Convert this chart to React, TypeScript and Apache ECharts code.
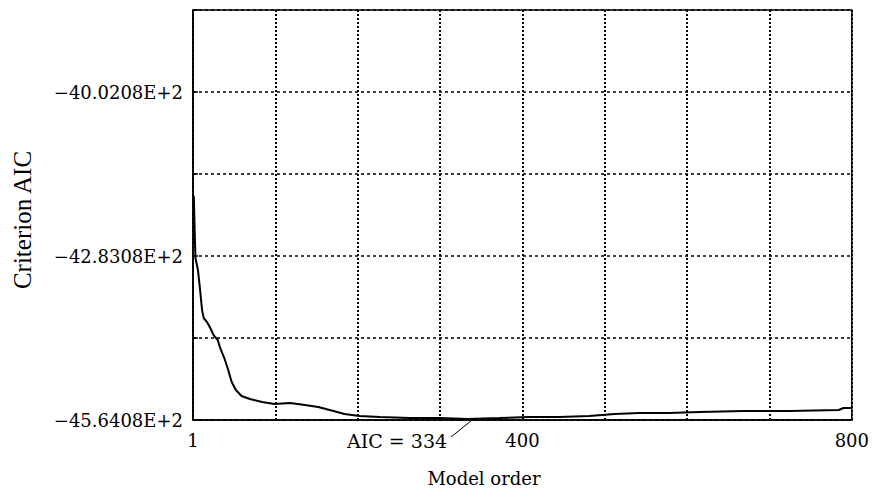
import React, { useEffect, useRef } from "react";
import * as echarts from "echarts";

// Model order (x) and criterion AIC values (y)
const ORDERS = [1, 2, 3, 4, 6, 8, 11, 13, 17, 21, 25, 30, 33, 38, 42, 47, 52, 59, 69, 84, 99, 118, 136, 152, 166, 184, 202, 227, 263, 299, 334, 372, 408, 445, 481, 512, 542, 578, 615, 669, 724, 784, 790, 800];
const AIC = [-4180.0, -4238.6, -4286.5, -4293.4, -4307.1, -4332.8, -4375.6, -4389.3, -4396.2, -4406.5, -4418.5, -4427.0, -4440.7, -4457.9, -4475.0, -4499.0, -4512.7, -4523.0, -4528.1, -4533.3, -4536.7, -4535.0, -4538.4, -4541.8, -4547.0, -4553.8, -4557.2, -4559.0, -4560.7, -4560.7, -4562.4, -4560.7, -4559.0, -4559.0, -4557.2, -4553.8, -4552.1, -4552.1, -4550.4, -4548.7, -4548.7, -4547.0, -4543.5, -4543.5];

// Axis definitions
const Y_MIN = -4564.08;
const Y_STEP = 140.5;
const Y_DIVS = 5;
const Y_LABEL_TEXTS = ["\u221245.6408E+2", "", "\u221242.8308E+2", "", "\u221240.0208E+2", ""];
const X_MAX = 800;
const X_STEP = 100;
const X_LABEL_POS = [0, 400, 800];
const X_LABEL_TEXTS = ["1", "400", "800"];
const BEST_ORDER = 334;
const ANNOT_TEXT = "AIC = 334";

const FONT = "DejaVu Serif";

export default function App() {
  const ref = useRef<HTMLDivElement>(null);
  useEffect(() => {
    if (!ref.current) return;
    const chart = echarts.init(ref.current, undefined, { renderer: "svg" });
    const data = ORDERS.map((o, i) => [o, AIC[i] - Y_MIN]);
    chart.setOption({
      animation: false,
      backgroundColor: "#fff",
      grid: { left: 193, right: 19, top: 10, bottom: 69, show: true, borderColor: "#000", borderWidth: 1.5, containLabel: false },
      xAxis: {
        type: "value",
        min: 0,
        max: X_MAX,
        interval: X_STEP,
        axisLine: { show: true, lineStyle: { color: "#000", width: 1.5 } },
        axisTick: { show: false },
        splitLine: { show: true, lineStyle: { color: "#000", type: [2, 2], width: 2 } },
        axisLabel: {
          show: true,
          margin: 11,
          color: "#000",
          fontFamily: FONT,
          fontSize: 18,
          showMinLabel: true,
          showMaxLabel: true,
          formatter: (v: number) => {
            const i = X_LABEL_POS.findIndex((p) => Math.abs(p - v) < 1e-6);
            return i >= 0 ? X_LABEL_TEXTS[i] : "";
          },
        },
      },
      yAxis: {
        type: "value",
        min: 0,
        max: Y_STEP * Y_DIVS,
        interval: Y_STEP,
        axisLine: { show: true, lineStyle: { color: "#000", width: 1.5 } },
        axisTick: { show: true, inside: true, length: 5, lineStyle: { color: "#000", width: 1.5 } },
        splitLine: { show: true, lineStyle: { color: "#000", type: [3, 3], width: 1.5 } },
        axisLabel: {
          show: true,
          margin: 10,
          color: "#000",
          fontFamily: FONT,
          fontSize: 18,
          showMinLabel: true,
          showMaxLabel: true,
          formatter: (v: number) => {
            const i = Math.round(v / Y_STEP);
            return Y_LABEL_TEXTS[i] || "";
          },
        },
      },
      series: [
        {
          type: "line",
          data,
          showSymbol: false,
          lineStyle: { color: "#000", width: 2 },
          z: 5,
        },
      ],
    });
    const bi = ORDERS.indexOf(BEST_ORDER);
    const p = chart.convertToPixel({ gridIndex: 0 }, [BEST_ORDER, AIC[bi] - Y_MIN]) as number[];
    chart.setOption({
      graphic: [
        {
          type: "text",
          x: 22,
          y: 220,
          rotation: Math.PI / 2,
          style: { text: "Criterion AIC", font: `25px "Liberation Serif"`, fill: "#000", textAlign: "center", textVerticalAlign: "middle" },
        },
        {
          type: "text",
          x: 484,
          y: 478,
          style: { text: "Model order", font: `18px "${FONT}"`, fill: "#000", textAlign: "center", textVerticalAlign: "middle" },
        },
        {
          type: "text",
          x: p[0] - 21,
          y: 441,
          style: { text: ANNOT_TEXT, font: `19px "${FONT}"`, fill: "#000", textAlign: "right", textVerticalAlign: "middle" },
        },
        {
          type: "line",
          shape: { x1: p[0] - 17, y1: p[1] + 18, x2: p[0] + 4, y2: p[1] + 1 },
          style: { stroke: "#000", lineWidth: 1 },
        },
      ],
    });
    return () => chart.dispose();
  }, []);
  return <div ref={ref} style={{ position: "fixed", left: 0, top: 0, width: 872, height: 489 }} />;
}
